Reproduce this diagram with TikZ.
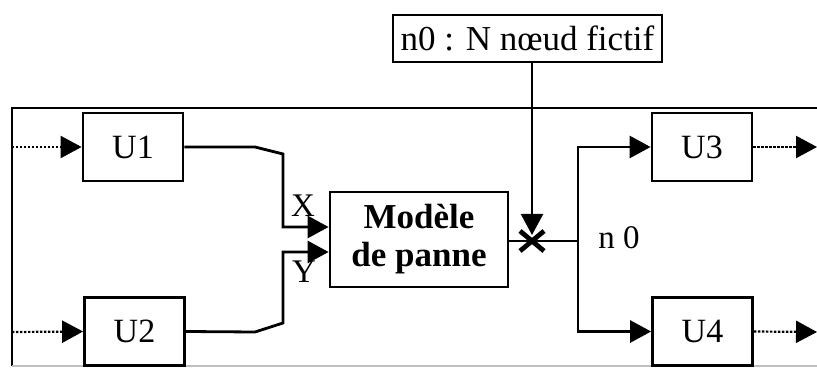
\documentclass[tikz,border=0pt]{standalone}
\usepackage{fontspec}
\setmainfont{Liberation Serif}
\usepackage{tikz}
\usetikzlibrary{arrows.meta}

\begin{document}
\begin{tikzpicture}[x=0.5pt, y=-0.5pt,
  unit/.style={draw, line width=1.4pt, minimum width=50pt, minimum height=34pt, inner sep=0pt, font=\fontsize{17}{20}\selectfont},
  model/.style={draw, line width=1.4pt, minimum width=89pt, minimum height=47.5pt, align=center, inner sep=0pt, font=\fontsize{17.5}{19}\selectfont\bfseries},
  note/.style={draw, line width=1.1pt, minimum width=134.5pt, minimum height=23.5pt, inner sep=0pt, font=\fontsize{17.5}{20}\selectfont},
  lbl/.style={font=\fontsize{16.5}{18}\selectfont, inner sep=0pt},
  arrow/.style={-{Triangle[length=10.5pt, width=11pt]}, line width=1.4pt},
  link/.style={line width=1.4pt},
  dots/.style={arrow, line width=1.1pt, dash pattern=on 1.2pt off 0.8pt}]
\useasboundingbox (0,0) rectangle (817,368);
% frame
\draw[line width=1.1pt] (817,108) -- (12,108) -- (12,366);
\draw[line width=1pt, gray!50] (12,366) -- (817,366);
% boxes
\node[unit] (u1) at (133,147) {U1};
\node[unit] (u2) at (134.5,331.5) {U2};
\node[unit] (u3) at (702,147) {U3};
\node[unit] (u4) at (702.5,331.5) {U4};
\node[model] (model) at (419,239.5) {Modèle\\de panne};
\node[note] (note) at (527.5,38.5) {n0 : N nœud fictif};
\coordinate (star) at (532,241);
\coordinate (split) at (578,241);
% inputs
\draw[dots] (12,147) -- (u1.west);
\draw[dots] (12,332) -- (u2.west);
\draw[arrow] (u1.east) -- (255,147) -- (283,154) |- ([yshift=6.25pt]model.west);
\draw[arrow] (u2.east) -- (255,332) -- (283,323) |- ([yshift=-6.25pt]model.west);
\node[lbl] (xlbl) at (303,206) {X};
\node[lbl] (ylbl) at (304,272) {Y};
% fictitious node
\draw[arrow, line width=1.1pt, shorten >=3pt] (note.south -| star) -- (star);
\draw[line width=2.4pt] ([shift={(-12,-10)}]star) -- ([shift={(12,10)}]star)
  ([shift={(-12,10)}]star) -- ([shift={(12,-10)}]star);
\draw[link] (model.east |- star) -- (split);
\node[lbl, anchor=west] (n0) at (598,238) {n 0};
% outputs
\draw[arrow] (split) |- (u3.west);
\draw[arrow] (split) |- (u4.west);
\draw[dots] (u3.east) -- (817,147);
\draw[dots] (u4.east) -- (817,332);
\end{tikzpicture}
\end{document}
